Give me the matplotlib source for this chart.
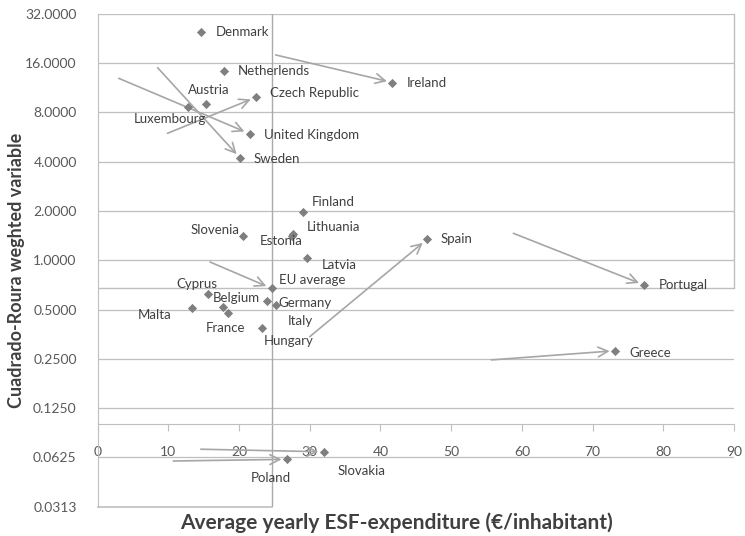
import matplotlib
matplotlib.use("Agg")
import matplotlib.pyplot as plt
from matplotlib.ticker import FixedLocator, FuncFormatter

plt.rcParams['font.family'] = ['Lato', 'DejaVu Sans']

# datos: gasto medio anual FSE (x) y variable ponderada (y)
paises = ["Denmark", "Netherlends", "Austria", "Luxembourg", "Czech Republic",
          "United Kingdom", "Sweden", "Ireland", "Finland", "Lithuania",
          "Estonia", "Slovenia", "Latvia", "Spain", "Portugal", "Greece",
          "EU average", "Cyprus", "Belgium", "France", "Malta", "Germany",
          "Italy", "Hungary", "Slovakia", "Poland"]
gasto = [14.7, 17.9, 15.4, 12.8, 22.4,
         21.5, 20.2, 41.7, 29.0, 27.7,
         27.5, 20.5, 29.6, 46.6, 77.3, 73.2,
         24.6, 15.6, 17.8, 18.5, 13.3, 23.9,
         25.2, 23.3, 32.0, 26.8]
variable = [24.95, 14.35, 8.98, 8.61, 9.91,
            5.94, 4.20, 12.2, 1.964, 1.457,
            1.397, 1.413, 1.028, 1.343, 0.706, 0.280,
            0.674, 0.622, 0.516, 0.474, 0.513, 0.566,
            0.530, 0.384, 0.0675, 0.0607]

# flechas: pais destino y punto de origen (x, y)
flecha_pais = ["Ireland", "United Kingdom", "Sweden", "Czech Republic", "EU average",
               "Spain", "Portugal", "Greece", "Slovakia", "Poland"]
flecha_x = [25.2, 3.0, 8.5, 9.9, 15.9, 30.0, 58.8, 55.7, 14.6, 10.7]
flecha_y = [17.98, 12.94, 15.03, 5.97, 0.976, 0.341, 1.461, 0.246, 0.070, 0.0593]

# posicion de etiquetas (desplazamiento en pixeles y alineacion)
etiquetas = {
    "Denmark": (14, 0, "left"), "Netherlends": (14, 0, "left"),
    "Austria": (2, 14, "center"), "Luxembourg": (-18, -12, "center"),
    "Czech Republic": (14, 4, "left"), "United Kingdom": (14, -1, "left"),
    "Sweden": (13, -1, "left"), "Ireland": (14, 0, "left"),
    "Finland": (9, 10, "left"), "Lithuania": (13, 7, "left"),
    "Estonia": (-11, -5, "center"), "Slovenia": (-3, 6, "right"),
    "Latvia": (15, -7, "left"), "Spain": (13, 0, "left"),
    "Portugal": (15, 0, "left"), "Greece": (14, -2, "left"),
    "EU average": (7, 8, "left"), "Cyprus": (-11, 10, "center"),
    "Belgium": (13, 9, "center"), "France": (-3, -15, "center"),
    "Malta": (-37, -7, "center"), "Germany": (12, -2, "left"),
    "Italy": (25, -16, "center"), "Hungary": (26, -13, "center"),
    "Slovakia": (38, -19, "center"), "Poland": (-16, -19, "center"),
}

fig = plt.figure(figsize=(7.45, 5.36), dpi=100)
ax = fig.add_axes([0.1309, 0.055, 0.8544, 0.9189])

ax.set_yscale('log', base=2)
ax.set_xlim(0, 90)
ax.set_ylim(2 ** -5, 2 ** 5)

gris = '#bfbfbf'
# lineas horizontales de la grilla
for k in range(-4, 6):
    ax.axhline(2 ** k, color=gris, lw=0.9, zorder=1)

# cuadrantes en la media UE
i_ue = paises.index("EU average")
x_ue, y_ue = gasto[i_ue], variable[i_ue]
ax.axvline(x_ue, color='#aaaaaa', lw=1.0, zorder=1)
ax.axhline(y_ue, color=gris, lw=1.0, zorder=1)
ax.plot([90, 90], [y_ue, 2 ** 5], color=gris, lw=1.0, zorder=1, clip_on=False)
ax.plot([0, x_ue], [2 ** -5, 2 ** -5], color=gris, lw=1.2, zorder=1, clip_on=False)

# flechas
for p, fx, fy in zip(flecha_pais, flecha_x, flecha_y):
    i = paises.index(p)
    ax.annotate("", xy=(gasto[i], variable[i]), xytext=(fx, fy),
                arrowprops=dict(arrowstyle="->,head_length=0.7,head_width=0.35",
                                color='#a6a6a6', lw=1.2, shrinkA=0, shrinkB=4),
                zorder=2)

# puntos
ax.scatter(gasto, variable, marker='D', s=22, color='#7f7f7f', zorder=3, linewidths=0)

for p, x, y in zip(paises, gasto, variable):
    dx, dy, ha = etiquetas[p]
    ax.annotate(p, (x, y), xytext=(dx, dy), textcoords='offset pixels',
                ha=ha, va='center', fontsize=9.5, color='#404040', zorder=4)

# ejes
for s in ['top', 'right']:
    ax.spines[s].set_visible(False)
ax.spines['left'].set_color(gris)
ax.spines['bottom'].set_color(gris)
ax.spines['bottom'].set_position(('data', 0.1))

ax.xaxis.set_major_locator(FixedLocator(range(0, 91, 10)))
ax.yaxis.set_major_locator(FixedLocator([2 ** k for k in range(-5, 6)]))
ax.yaxis.set_minor_locator(FixedLocator([]))
# redondeo como Excel (0.03125 -> 0.0313)
ax.yaxis.set_major_formatter(FuncFormatter(lambda v, pos: f"{v + 1e-9:.4f}"))
ax.tick_params(axis='x', direction='out', length=5, color=gris, pad=11,
               labelsize=10, labelcolor='#595959')
ax.tick_params(axis='y', length=0, pad=15, labelsize=10, labelcolor='#595959')

# titulos de ejes
fig.text(396 / 745, 1 - 523 / 536, "Average yearly ESF-expenditure (€/inhabitant)",
         fontsize=15, fontweight='bold', color='#404040', ha='center', va='center')
fig.text(17 / 745, 1 - 270 / 536, "Cuadrado-Roura weghted variable", rotation=90,
         fontsize=13, fontweight='bold', color='#404040', ha='center', va='center')

fig.savefig("out.png", dpi=100, facecolor='white')
